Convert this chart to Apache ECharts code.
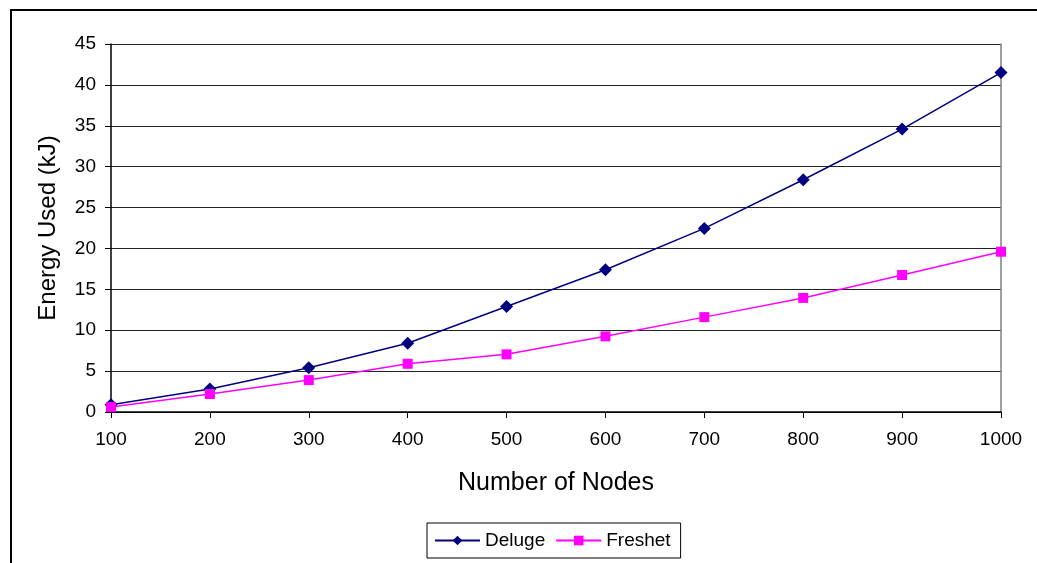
<!DOCTYPE html>
<html>
<head>
<meta charset="utf-8">
<script src="https://cdn.jsdelivr.net/npm/echarts@6/dist/echarts.min.js"></script>
<style>
  html, body { margin: 0; padding: 0; background: #fff; overflow: hidden; }
  #chart { width: 1037px; height: 563px; }
  #frame { position: absolute; left: 10px; top: 9px; width: 1100px; height: 700px; border: 2px solid #000; pointer-events: none; }
</style>
</head>
<body>
<div id="chart"></div>
<div id="frame"></div>
<script>
const categories = ['100', '200', '300', '400', '500', '600', '700', '800', '900', '1000'];
const deluge = [0.9, 2.8, 5.4, 8.4, 12.9, 17.4, 22.45, 28.4, 34.6, 41.5];
const freshet = [0.6, 2.2, 3.9, 5.9, 7.05, 9.25, 11.6, 13.95, 16.75, 19.6];
const yTicks = { min: 0, max: 45, interval: 5 };

const FONT = '"Liberation Sans", Arial, sans-serif';
const chart = echarts.init(document.getElementById('chart'), null, { renderer: 'canvas' });
chart.setOption({
  backgroundColor: '#fff',
  animation: false,
  grid: { left: 111, top: 44, right: 36, bottom: 151, containLabel: false },
  legend: {
    left: 427, top: 523,
    padding: [8, 10, 8, 7],
    borderColor: '#000', borderWidth: 1,
    itemWidth: 45, itemHeight: 12, itemGap: 10,
    textStyle: { fontFamily: FONT, fontSize: 19, color: '#000' },
    data: ['Deluge', 'Freshet']
  },
  xAxis: {
    type: 'category',
    data: categories,
    boundaryGap: false,
    name: 'Number of Nodes',
    nameLocation: 'middle',
    nameGap: 59,
    nameTextStyle: { fontFamily: FONT, fontSize: 25, color: '#000' },
    axisLine: { lineStyle: { color: '#000', width: 1.5 } },
    axisTick: { show: true, length: 6, lineStyle: { color: '#000' } },
    axisLabel: { fontFamily: FONT, fontSize: 19, color: '#000', margin: 18 },
    splitLine: { show: false }
  },
  yAxis: [{
    type: 'value',
    min: yTicks.min, max: yTicks.max, interval: yTicks.interval,
    name: 'Energy Used (kJ)',
    nameLocation: 'middle',
    nameGap: 51,
    nameTextStyle: { fontFamily: FONT, fontSize: 24, color: '#000' },
    axisLine: { show: true, lineStyle: { color: '#000', width: 1.5 } },
    axisTick: { show: true, length: 6, lineStyle: { color: '#000' } },
    axisLabel: { fontFamily: FONT, fontSize: 19, color: '#000', margin: 15 },
    splitLine: { show: true, lineStyle: { color: '#222', width: 1 } }
  }, {
    type: 'value', position: 'right',
    min: yTicks.min, max: yTicks.max, interval: yTicks.interval,
    axisLine: { show: true, lineStyle: { color: '#808080', width: 1.5 } },
    axisTick: { show: false }, axisLabel: { show: false }, splitLine: { show: false }
  }],
  series: [{
    name: 'Deluge', type: 'line', data: deluge,
    symbol: 'diamond', symbolSize: 13,
    lineStyle: { color: '#000080', width: 1.5 },
    itemStyle: { color: '#000080' }
  }, {
    name: 'Freshet', type: 'line', data: freshet,
    symbol: 'rect', symbolSize: 10,
    lineStyle: { color: '#FF00FF', width: 1.5 },
    itemStyle: { color: '#FF00FF' }
  }]
});
</script>
</body>
</html>
